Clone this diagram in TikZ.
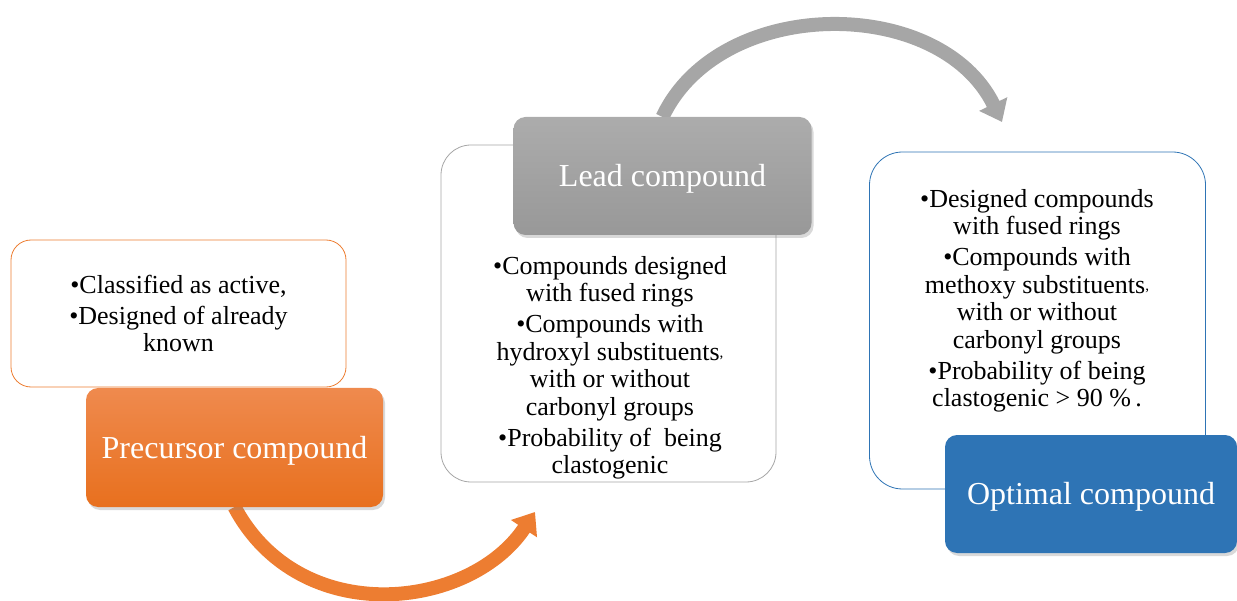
\documentclass[tikz,border=0pt]{standalone}
\usepackage{fontspec}
\setmainfont{Liberation Serif}
\usetikzlibrary{arrows.meta,shadows,backgrounds}
\definecolor{precorange}{RGB}{237,125,49}
\definecolor{precorangetop}{RGB}{239,138,78}
\definecolor{precorangebot}{RGB}{232,112,30}
\definecolor{leadgray}{RGB}{166,166,166}
\definecolor{leadgraytop}{RGB}{172,172,172}
\definecolor{leadgraybot}{RGB}{152,152,152}
\definecolor{optblue}{RGB}{46,116,181}
\tikzset{infobox/.style={draw, fill=white, rounded corners=#1, line width=0.8pt, inner sep=0pt, outer sep=0pt}}
\tikzset{infotext/.style={align=center, inner sep=0pt, font=\fontsize{26}{27.5}\selectfont}}
\tikzset{stagebox/.style={rounded corners=12pt, inner sep=0pt, outer sep=0pt, text=white, text height=22pt, text depth=1pt, font=\fontsize{32}{36}\selectfont, drop shadow={shadow xshift=2pt, shadow yshift=-3pt, opacity=0.3}}}
\tikzset{bigarrow/.style={line width=14pt, -{Triangle[length=20pt,width=30pt]}}}
\newcommand{\smallcomma}{\raisebox{3pt}{\fontsize{15}{15}\selectfont,}}

\begin{document}
\begin{tikzpicture}[x=1pt, y=-1pt]
        \useasboundingbox (0,0) rectangle (1237,601);

        \node[infobox=20pt, infotext, draw=precorange, minimum width=335pt, minimum height=147pt] (prectext) at (178.5,313.5)
            {•Classified as active,\\[3.5pt]•Designed of already\\known};
        \node[infobox=30pt, draw=leadgray, minimum width=335pt, minimum height=337pt] (leadinfo) at (608.5,313.5) {};
        \node[infobox=33pt, draw=optblue, minimum width=336pt, minimum height=337pt] (optinfo) at (1037.5,320.5) {};

        \node[infotext, anchor=north] (leadtext) at (610,256)
            {•Compounds designed\\with fused rings\\[3.5pt]•Compounds with\\hydroxyl substituents\smallcomma\\with or without\\carbonyl groups\\[3.5pt]•Probability of\ \ being\\clastogenic};
        \node[infotext, anchor=north] (opttext) at (1037,189)
            {•Designed compounds\\with fused rings\\[3.5pt]•Compounds with\\methoxy substituents\smallcomma\\with or without\\carbonyl groups\\[3.5pt]•Probability of being\\clastogenic > 90 \%\,.};

        \node[stagebox, top color=precorangetop, bottom color=precorangebot, minimum width=297pt, minimum height=119pt] (prec) at (234.5,447.5) {Precursor compound};
        \node[stagebox, top color=leadgraytop, bottom color=leadgraybot, minimum width=298pt, minimum height=118pt] (lead) at (662.5,176) {Lead compound};
        \node[stagebox, fill=optblue, minimum width=292pt, minimum height=118pt] (opt) at (1091,494) {Optimal compound};

        \coordinate (precend) at (535,512);
        \coordinate (leadend) at (1002,122);

        \begin{scope}[on background layer]
        \draw[bigarrow, color=precorange] (prec.south) .. controls (300,630) and (470,610) .. (precend);
        \draw[bigarrow, color=leadgray] (lead.north) .. controls (720,-5) and (940,-5) .. (leadend);
        \end{scope}
    \end{tikzpicture}
\end{document}
